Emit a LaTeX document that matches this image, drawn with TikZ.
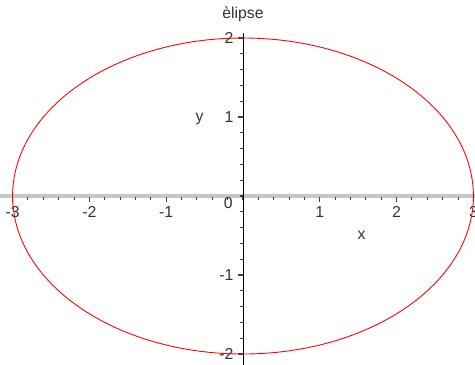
\documentclass[tikz,border=0pt]{standalone}
\usepackage{fontspec}
\setmainfont{Liberation Sans}
\usetikzlibrary{positioning}

\begin{document}
\begin{tikzpicture}[
    x=1.536cm,
    y=1.58cm,
    every node/.style={font=\fontsize{9}{10}\selectfont, text=black!80, inner sep=0pt},
    curve/.style={draw=red, line width=0.5pt},
    xaxis/.style={draw=black!22, line width=2pt},
    yaxis/.style={draw=black, line width=0.55pt},
    minortick/.style={draw=black!75, line width=0.6pt},
    majortick/.style={draw=black!75, line width=0.7pt}
  ]
    \useasboundingbox (-3.164,-2.139) rectangle (3.021,2.481);
    % axes
    \draw[xaxis] (-3.164,0) -- (3.021,0);
    \foreach \x in {-3.0,-2.8,...,3.01} {
      \draw[minortick] (\x,-0.01) -- (\x,-0.05);
    }
    \foreach \x in {-3,-2,-1,1,2,3} {
      \draw[majortick] (\x,-0.01) -- (\x,-0.07);
      \node[anchor=north] (xl\x) at (\x,-0.13) {\x};
    }
    \draw[yaxis] (0,2.06) -- (0,-2.139);
    \foreach \y in {-2.0,-1.8,...,2.01} {
      \draw[minortick] (-0.035,\y) -- (0,\y);
    }
    \foreach \y in {-2,-1,1,2} {
      \draw[majortick] (-0.06,\y) -- (0,\y);
      \node[anchor=east] (yl\y) at (-0.12,\y) {\y};
    }
    \node[anchor=east] (zero) at (-0.13,-0.09) {0};
    % curve
    \draw[curve] (0,0) ellipse [x radius=3, y radius=2];
    % labels
    \node (xname) at (1.543,-0.494) {x};
    \node (yname) at (-0.566,0.975) {y};
    \node (title) at (0,2.304) {èlipse};
\end{tikzpicture}
\end{document}
